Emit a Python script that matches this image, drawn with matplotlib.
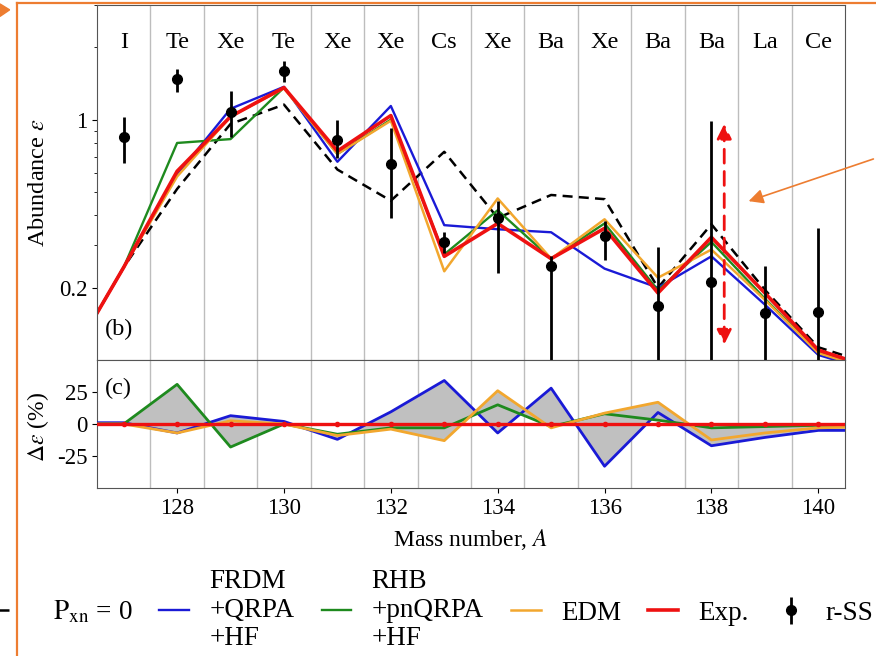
import numpy as np
import matplotlib
matplotlib.use("Agg")
from matplotlib import pyplot as plt
from matplotlib.ticker import FixedLocator, LogLocator, NullFormatter
from matplotlib.patches import FancyArrowPatch, Polygon
from matplotlib.lines import Line2D

plt.rcParams['font.family'] = ['Liberation Serif', 'DejaVu Serif']
plt.rcParams['mathtext.fontset'] = 'stix'
plt.rcParams['axes.unicode_minus'] = False

# mass numbers and element labels
mass = np.arange(126, 142)
label_mass = np.arange(127, 141)
elements = ['I', 'Te', 'Xe', 'Te', 'Xe', 'Xe', 'Cs', 'Xe', 'Ba', 'Xe', 'Ba', 'Ba', 'La', 'Ce']

# abundances (panel b)
pxn0 = [0.101, 0.243, 0.515, 0.96, 1.155, 0.62, 0.46, 0.735, 0.39, 0.486, 0.467, 0.20, 0.367, 0.196, 0.113, 0.096]
frdm = [0.101, 0.243, 0.59, 1.11, 1.37, 0.668, 1.14, 0.364, 0.35, 0.34, 0.24, 0.20, 0.27, 0.17, 0.105, 0.09]
rhb = [0.101, 0.243, 0.80, 0.83, 1.36, 0.72, 1.0, 0.275, 0.42, 0.264, 0.37, 0.195, 0.31, 0.18, 0.108, 0.092]
edm = [0.101, 0.243, 0.58, 1.03, 1.35, 0.72, 0.99, 0.234, 0.47, 0.264, 0.385, 0.22, 0.288, 0.178, 0.107, 0.091]
exp = [0.101, 0.243, 0.61, 1.03, 1.36, 0.74, 1.04, 0.27, 0.37, 0.264, 0.353, 0.19, 0.324, 0.19, 0.11, 0.093]

# r-process solar system abundances with lower / upper bounds
rss = [0.85, 1.47, 1.08, 1.59, 0.825, 0.655, 0.31, 0.39, 0.245, 0.327, 0.168, 0.212, 0.157, 0.159]
rss_lo = [0.66, 1.30, 0.85, 1.43, 0.69, 0.39, 0.28, 0.23, 0.05, 0.26, 0.05, 0.05, 0.05, 0.05]
rss_hi = [1.03, 1.62, 1.31, 1.75, 1.0, 0.92, 0.34, 0.46, 0.27, 0.38, 0.294, 0.99, 0.245, 0.353]

# relative deviations in % (panel c)
frdm_d = [1, 1, -7, 6.5, 2, -12, 9.5, 34, -7, 28, -33, 9, -17, -10.5, -5, -5]
rhb_d = [0, 0, 31, -18, 0, -8, -3, -3, 15, -2, 8, 3, -3, -2, -1, -1]
edm_d = [0, 0, -7, 2.5, 0, -9, -4, -13, 26, -3, 8.5, 17, -12.5, -7, -3, -2]
exp_d = [0] * 16

C_BLUE = '#1a1ad6'
C_GREEN = '#1e8a1e'
C_ORANGE = '#f2a72e'
C_RED = '#ee1111'
C_NOTE = '#ed7d31'
FS = 17.5

fig = plt.figure(figsize=(8.76, 6.56), dpi=100)
ax1 = fig.add_axes([0.1107, 0.4512, 0.8539, 0.5412])
ax2 = fig.add_axes([0.1107, 0.2561, 0.8539, 0.1951], sharex=ax1)

for ax in (ax1, ax2):
    for b in np.arange(127.5, 140.5, 1.0):
        ax.axvline(b, color='#bdbdbd', lw=1.0, zorder=0)
    for s in ax.spines.values():
        s.set_color('#555555')

ax1.plot(mass, pxn0, color='black', ls=(0, (4, 2.5)), lw=1.8, label='   $\\mathrm{P_{xn}}$ = 0')
ax1.plot(mass, frdm, color=C_BLUE, lw=1.7, label='FRDM\n+QRPA\n+HF')
ax1.plot(mass, rhb, color=C_GREEN, lw=1.7, label='RHB\n+pnQRPA\n+HF')
ax1.plot(mass, edm, color=C_ORANGE, lw=1.8, label='EDM')
ax1.plot(mass, exp, color=C_RED, lw=2.6, label='Exp.')
rss = np.array(rss)
yerr = [rss - np.array(rss_lo), np.array(rss_hi) - rss]
ax1.errorbar(label_mass, rss, yerr=yerr, fmt='o', color='black', ms=7, elinewidth=2,
             capsize=0, zorder=5, label='r-SS')

ax1.set_yscale('log')
ax1.set_ylim(0.1, 3.0)
ax1.set_xlim(126.5, 140.5)
ax1.yaxis.set_major_locator(FixedLocator([0.2, 1]))
ax1.set_yticklabels(['0.2', '1'])
ax1.yaxis.set_minor_locator(LogLocator(subs=np.arange(2, 10)))
ax1.yaxis.set_minor_formatter(NullFormatter())
ax1.tick_params(axis='x', bottom=False, labelbottom=False)
ax1.tick_params(axis='y', labelsize=16.5)
ax1.set_ylabel(r'Abundance $\varepsilon$', fontsize=17.5)
ax1.yaxis.set_label_coords(-0.064, 0.5)

for m, el in zip(label_mass, elements):
    ax1.text(m, 0.895, el, transform=ax1.get_xaxis_transform(), ha='center', va='center', fontsize=FS)
ax1.text(0.011, 0.085, '(b)', transform=ax1.transAxes, ha='left', va='center', fontsize=FS)

# red dashed double arrow on A = 138
ax1.annotate('', xy=(138.24, 0.116), xytext=(138.24, 0.96),
             arrowprops=dict(arrowstyle='<|-|>', color=C_RED, lw=2, ls=(0, (5, 3)),
                             mutation_scale=22, shrinkA=0, shrinkB=0), zorder=6)

# grey envelope of the three models
fine = np.linspace(mass[0], mass[-1], 1501)
curves = [np.interp(fine, mass, d) for d in (frdm_d, rhb_d, edm_d)]
ax2.fill_between(fine, np.min(curves, axis=0), np.max(curves, axis=0), color='#c0c0c0', lw=0, zorder=1)
ax2.plot(mass, frdm_d, color=C_BLUE, lw=2, zorder=3)
ax2.plot(mass, rhb_d, color=C_GREEN, lw=2, zorder=3)
ax2.plot(mass, edm_d, color=C_ORANGE, lw=2, zorder=3)
ax2.plot(mass, exp_d, color=C_RED, lw=2.4, marker='o', ms=3, zorder=4)
ax2.set_ylim(-50, 50)
ax2.set_yticks([-25, 0, 25])
ax2.set_yticklabels(['-25', '0', '25'])
ax2.set_xticks(np.arange(128, 141, 2))
ax2.tick_params(labelsize=16.5)
ax2.set_ylabel(r'$\Delta\varepsilon$ (%)', fontsize=17)
ax2.yaxis.set_label_coords(-0.062, 0.48)
ax2.set_xlabel(r'Mass number, $A$', fontsize=17, labelpad=6)
ax2.text(0.011, 0.78, '(c)', transform=ax2.transAxes, ha='left', va='center', fontsize=FS)

handles, labels = ax1.get_legend_handles_labels()
fig.legend(handles, labels, loc='center left', bbox_to_anchor=(-0.02, 0.07), ncol=6, frameon=False,
           fontsize=19.5, handlelength=1.1, handletextpad=0.75, columnspacing=1.0, labelspacing=0.2,
           borderpad=0, borderaxespad=0)

# orange slide annotations
fig.add_artist(Line2D([0.0194, 1.0], [0.9954, 0.9954], color=C_NOTE, lw=1.6, transform=fig.transFigure))
fig.add_artist(Line2D([0.0194, 0.0194], [0.0, 0.9954], color=C_NOTE, lw=1.6, transform=fig.transFigure))
fig.add_artist(Polygon([[0.0, 0.994], [0.0, 0.975], [0.011, 0.985]], closed=True, color=C_NOTE,
                       transform=fig.transFigure))
fig.add_artist(FancyArrowPatch((1.0, 0.759), (0.8516, 0.692), transform=fig.transFigure,
                               arrowstyle='-|>', mutation_scale=22, color=C_NOTE, lw=1.2))

fig.savefig('out.png', dpi=100)
